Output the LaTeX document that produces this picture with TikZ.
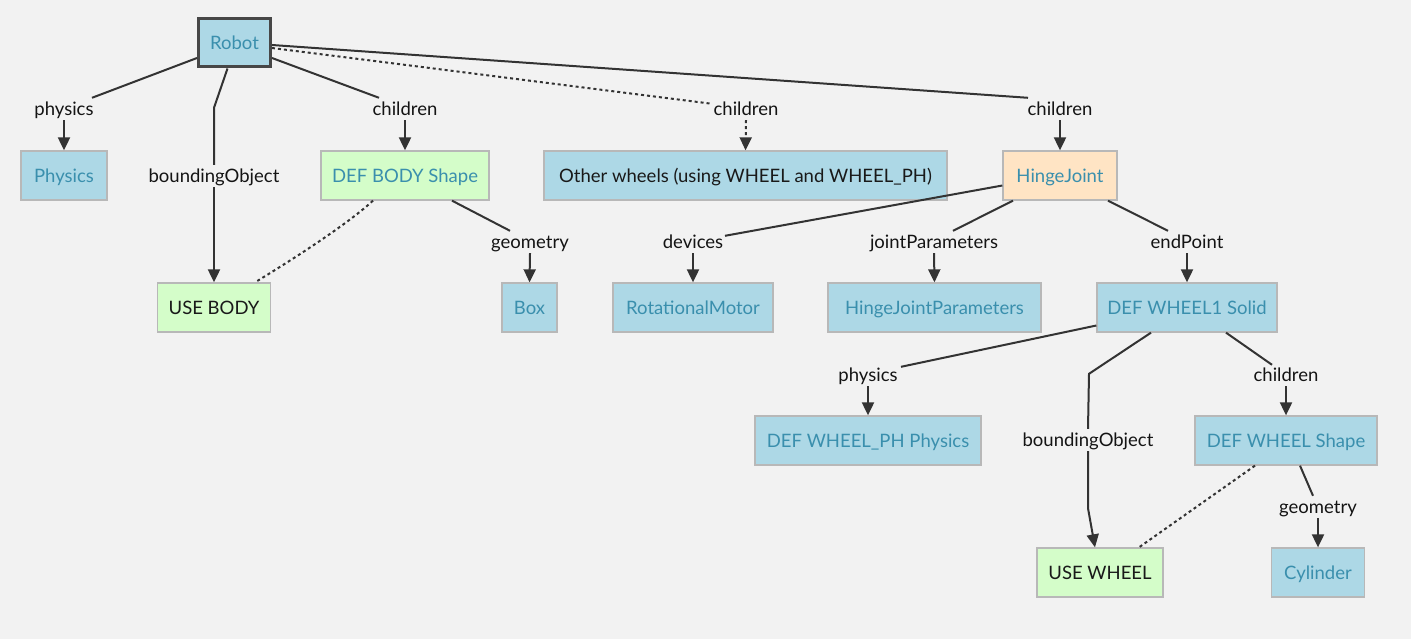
\documentclass[tikz,border=0pt]{standalone}
\usepackage{fontspec}
\setmainfont{Lato}
\usetikzlibrary{arrows.meta}
\definecolor{bgc}{HTML}{F2F2F2}
\definecolor{nblue}{HTML}{ADD8E6}
\definecolor{ngreen}{HTML}{D4FDC9}
\definecolor{nbisque}{HTML}{FFE4C4}
\definecolor{nborder}{HTML}{B8B8B8}
\definecolor{tteal}{HTML}{3A8FAD}
\definecolor{edgec}{HTML}{333333}
\tikzset{
  box/.style={draw=nborder, line width=1.3pt, inner sep=0pt, minimum height=49pt, text depth=0pt, font=\fontsize{18.5}{22}\selectfont},
  bluebox/.style={box, fill=nblue, text=tteal},
  blueboxk/.style={box, fill=nblue, text=black!90},
  greenbox/.style={box, fill=ngreen, text=tteal},
  greenboxk/.style={box, fill=ngreen, text=black!90},
  bisquebox/.style={box, fill=nbisque, text=tteal},
  lbl/.style={inner sep=0pt, minimum height=22pt, text depth=0pt, text=black!92, font=\fontsize{18.5}{22}\selectfont},
  edge/.style={draw=edgec, line width=2pt},
  arr/.style={edge, -{Triangle[length=13pt,width=12pt]}},
  dotl/.style={draw=edgec, line width=2pt, dash pattern=on 3pt off 3pt},
}
\begin{document}
\begin{tikzpicture}[x=1pt,y=-1pt]
\fill[bgc] (0,0) rectangle (1411,639);
\useasboundingbox (0,0) rectangle (1411,639);
% nodes
\node[bluebox, draw=black!72, line width=3pt, minimum width=72pt, minimum height=48pt] (robot) at (234.5,43) {Robot};
\node[bluebox, minimum width=86pt] (phys) at (64,175.5) {Physics};
\node[greenbox, minimum width=168pt] (defbody) at (405,175.5) {DEF BODY Shape};
\node[blueboxk, minimum width=403pt] (other) at (745.5,175.5) {Other wheels (using WHEEL and WHEEL\_PH)};
\node[bisquebox, minimum width=114pt] (hinge) at (1060,175.5) {HingeJoint};
\node[greenboxk, minimum width=113pt] (usebody) at (214,307.5) {USE BODY};
\node[bluebox, minimum width=55pt] (boxn) at (529.5,307.5) {Box};
\node[bluebox, minimum width=160pt] (rotm) at (693,307.5) {RotationalMotor};
\node[bluebox, minimum width=213pt] (hjp) at (934.5,307.5) {HingeJointParameters};
\node[bluebox, minimum width=180pt] (wheel1) at (1187,307.5) {DEF WHEEL1 Solid};
\node[bluebox, minimum width=226pt] (wheelph) at (868,440.5) {DEF WHEEL\_PH Physics};
\node[bluebox, minimum width=182pt] (wheelshape) at (1286,440.5) {DEF WHEEL Shape};
\node[greenboxk, minimum width=126pt] (usewheel) at (1100,572.5) {USE WHEEL};
\node[bluebox, minimum width=93pt] (cyl) at (1318,572.5) {Cylinder};
% labels
\node[lbl] (lphys) at (64,109) {physics};
\node[lbl] (lbo) at (214,176) {boundingObject};
\node[lbl] (lch1) at (405,109) {children};
\node[lbl] (lch2) at (746,109) {children};
\node[lbl] (lch3) at (1060,109) {children};
\node[lbl] (lgeo1) at (530,242) {geometry};
\node[lbl] (ldev) at (693,242) {devices};
\node[lbl] (ljp) at (934,242) {jointParameters};
\node[lbl] (lend) at (1187,242) {endPoint};
\node[lbl] (lph2) at (868,375) {physics};
\node[lbl] (lbo2) at (1088,440) {boundingObject};
\node[lbl] (lch4) at (1286,375) {children};
\node[lbl] (lgeo2) at (1318,507) {geometry};
% edges
\draw[edge] ([yshift=-15pt]robot.west) -- ([xshift=28pt]lphys.north);
\draw[arr] (lphys.south) -- (phys.north);
\draw[edge] ([xshift=-7pt]robot.south) -- ([yshift=57pt]lbo.north) -- (lbo.north);
\draw[arr] (lbo.south) -- (usebody.north);
\draw[edge] ([yshift=-15pt]robot.east) -- ([xshift=-26pt]lch1.north);
\draw[arr] (lch1.south) -- (defbody.north);
\draw[dotl] ([yshift=-5pt]robot.east) -- ([xshift=-34pt,yshift=-6pt]lch2.north);
\draw[arr, dash pattern=on 3pt off 3pt] (lch2.south) -- (other.north);
\draw[edge] ([yshift=-2pt]robot.east) -- ([xshift=-32pt]lch3.north);
\draw[arr] (lch3.south) -- (hinge.north);
\draw[edge] ([xshift=47pt]defbody.south) -- ([xshift=-20pt]lgeo1.north);
\draw[arr] (lgeo1.south) -- (boxn.north);
\draw[dotl] ([xshift=-32pt]defbody.south) .. controls (350,222) and (300,255) .. ([xshift=41pt]usebody.north);
\draw[edge] ([yshift=-10pt]hinge.west) -- ([xshift=32pt,yshift=-5pt]ldev.north);
\draw[arr] (ldev.south) -- (rotm.north);
\draw[edge] ([xshift=-47pt]hinge.south) -- ([xshift=19pt]ljp.north);
\draw[arr] (ljp.south) -- (hjp.north);
\draw[edge] ([xshift=48pt]hinge.south) -- ([xshift=-19pt]lend.north);
\draw[arr] (lend.south) -- (wheel1.north);
\draw[edge] ([yshift=-18pt]wheel1.west) -- ([xshift=33pt,yshift=-3pt]lph2.north);
\draw[arr] (lph2.south) -- (wheelph.north);
\draw[edge] ([xshift=-36pt]wheel1.south) -- ([xshift=1pt,yshift=55pt]lbo2.north) -- (lbo2.north);
\draw[arr] (lbo2.south) -- ([yshift=-57pt]lbo2.south) -- ([xshift=-5pt]usewheel.north);
\draw[edge] ([xshift=39pt]wheel1.south) -- ([xshift=-14pt,yshift=-1pt]lch4.north);
\draw[arr] (lch4.south) -- (wheelshape.north);
\draw[edge] ([xshift=14pt]wheelshape.south) -- ([xshift=-5pt]lgeo2.north);
\draw[arr] (lgeo2.south) -- (cyl.north);
\draw[dotl] ([xshift=-31pt]wheelshape.south) -- ([xshift=39pt]usewheel.north);
\end{tikzpicture}
\end{document}
